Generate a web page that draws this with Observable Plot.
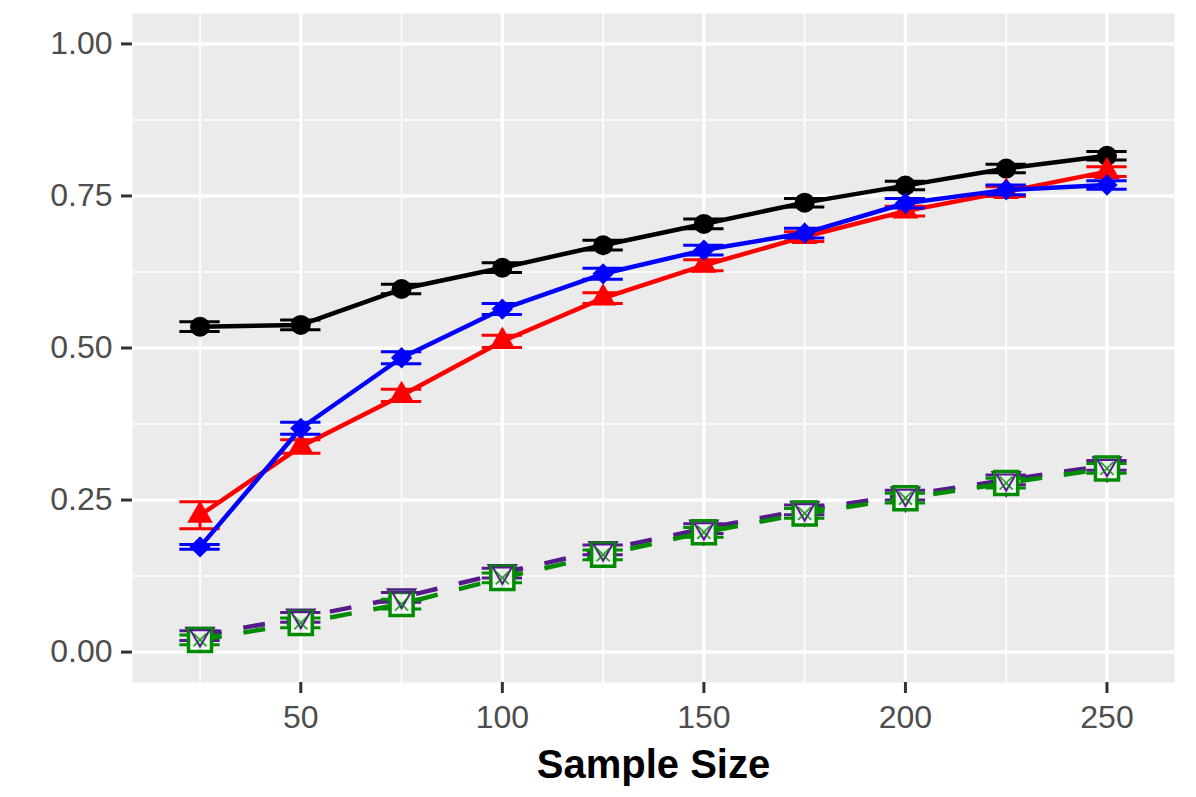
<!DOCTYPE html>
<html><head><meta charset="utf-8">
<script src="https://cdn.jsdelivr.net/npm/d3@7"></script>
<script src="https://cdn.jsdelivr.net/npm/@observablehq/plot@0.6"></script>
<style>body{margin:0;background:#fff}</style>
</head><body><div id="chart"></div>
<script>
// ---- data ----
const sampleSize = [25, 50, 75, 100, 125, 150, 175, 200, 225, 250];
const blackVals  = [0.535, 0.538, 0.597, 0.632, 0.669, 0.704, 0.739, 0.767, 0.795, 0.816];
const blackErr   = [0.008, 0.008, 0.008, 0.008, 0.008, 0.008, 0.007, 0.007, 0.007, 0.007];
const redVals    = [0.225, 0.338, 0.422, 0.511, 0.582, 0.636, 0.683, 0.725, 0.757, 0.790];
const redErr     = [0.022, 0.011, 0.010, 0.010, 0.009, 0.009, 0.008, 0.008, 0.008, 0.008];
const blueVals   = [0.173, 0.368, 0.484, 0.564, 0.622, 0.661, 0.689, 0.738, 0.760, 0.768];
const blueErr    = [0.004, 0.010, 0.010, 0.009, 0.009, 0.008, 0.008, 0.008, 0.008, 0.007];
const purpleVals = [0.027, 0.057, 0.090, 0.130, 0.168, 0.203, 0.234, 0.258, 0.283, 0.307];
const purpleErr  = [0.008, 0.008, 0.008, 0.008, 0.008, 0.008, 0.008, 0.008, 0.008, 0.008];
const greenVals  = [0.020, 0.048, 0.079, 0.122, 0.160, 0.197, 0.228, 0.253, 0.278, 0.302];
const greenErr   = [0.008, 0.008, 0.008, 0.008, 0.008, 0.008, 0.008, 0.008, 0.008, 0.008];

const xMajor = [50, 100, 150, 200, 250];
const xMinor = [25, 75, 125, 175, 225];
const yMajor = [0, 0.25, 0.5, 0.75, 1];
const yMinor = [0.125, 0.375, 0.625, 0.875];
const xTitle = "Sample Size";

function rows(vals, errs) {
  return sampleSize.map((x, i) => ({x, y: vals[i], lo: vals[i] - errs[i], hi: vals[i] + errs[i]}));
}
const series = [
  {data: rows(blackVals, blackErr),   color: "#000000", dash: null},
  {data: rows(redVals, redErr),       color: "#FF0000", dash: null},
  {data: rows(blueVals, blueErr),     color: "#0000FF", dash: null},
  {data: rows(purpleVals, purpleErr), color: "#551A8B", dash: "22,22"},
  {data: rows(greenVals, greenErr),   color: "#008B00", dash: "22,22"}
];
const capHalf = 5;

const marks = [
  Plot.frame({fill: "#EBEBEB", stroke: "none"}),
  Plot.ruleX(xMinor, {stroke: "white", strokeWidth: 1.6}),
  Plot.ruleY(yMinor, {stroke: "white", strokeWidth: 1.6}),
  Plot.ruleX(xMajor, {stroke: "white", strokeWidth: 3.2}),
  Plot.ruleY(yMajor, {stroke: "white", strokeWidth: 3.2}),
  Plot.axisY(yMajor, {tickFormat: d3.format(".2f"), tickSize: 11, tickPadding: 9, fontSize: 32,
    stroke: "#333333", strokeWidth: 3, fill: "#4D4D4D", label: null}),
  Plot.axisX(xMajor, {tickSize: 11, tickPadding: 12, fontSize: 32,
    stroke: "#333333", strokeWidth: 3, fill: "#4D4D4D", label: null}),
  Plot.text([xTitle], {text: d => d, frameAnchor: "bottom", dy: 95, lineAnchor: "bottom",
    fontSize: 40, fontWeight: "bold", fill: "black"})
];

series.forEach((s, k) => {
  marks.push(Plot.line(s.data, {x: "x", y: "y", stroke: s.color, strokeWidth: 4.5,
    strokeDasharray: s.dash, strokeLinecap: "butt"}));
  marks.push(Plot.ruleX(s.data, {x: "x", y1: "lo", y2: "hi", stroke: s.color, strokeWidth: 3}));
  marks.push(Plot.ruleY(s.data, {y: "lo", x1: d => d.x - capHalf, x2: d => d.x + capHalf, stroke: s.color, strokeWidth: 3}));
  marks.push(Plot.ruleY(s.data, {y: "hi", x1: d => d.x - capHalf, x2: d => d.x + capHalf, stroke: s.color, strokeWidth: 3}));
  if (k === 0) marks.push(Plot.dot(s.data, {x: "x", y: "y", symbol: "circle", r: 10, fill: s.color}));
  if (k === 1) marks.push(Plot.dot(s.data, {x: "x", y: "y", symbol: "triangle", r: 9.5, fill: s.color}));
  if (k === 2) marks.push(Plot.dot(s.data, {x: "x", y: "y", symbol: "square", r: 8.5, rotate: 45, fill: s.color}));
  if (k === 3) marks.push(Plot.dot(s.data, {x: "x", y: "y", symbol: "triangle", r: 10, rotate: 180, fill: "none", stroke: s.color, strokeWidth: 2.5}));
  if (k === 4) {
    marks.push(Plot.dot(s.data, {x: "x", y: "y", symbol: "square", r: 13, fill: "white", fillOpacity: 0.9, stroke: s.color, strokeWidth: 3.5}));
    marks.push(Plot.dot(series[3].data, {x: "x", y: "y", symbol: "triangle", r: 7, rotate: 180, fill: "none", stroke: series[3].color, strokeWidth: 2}));
    marks.push(Plot.dot(s.data, {x: "x", y: "y", symbol: "times", r: 6, stroke: s.color, strokeWidth: 1.8, strokeOpacity: 0.8}));
  }
});

const chart = Plot.plot({
  width: 1196,
  height: 797,
  marginLeft: 132,
  marginRight: 22,
  marginTop: 13,
  marginBottom: 115,
  style: {fontFamily: "'Liberation Sans', Arial, sans-serif", background: "white"},
  x: {domain: [8.25, 266.75]},
  y: {domain: [-0.05, 1.05]},
  marks
});
document.getElementById("chart").appendChild(chart);
</script>
</body></html>
